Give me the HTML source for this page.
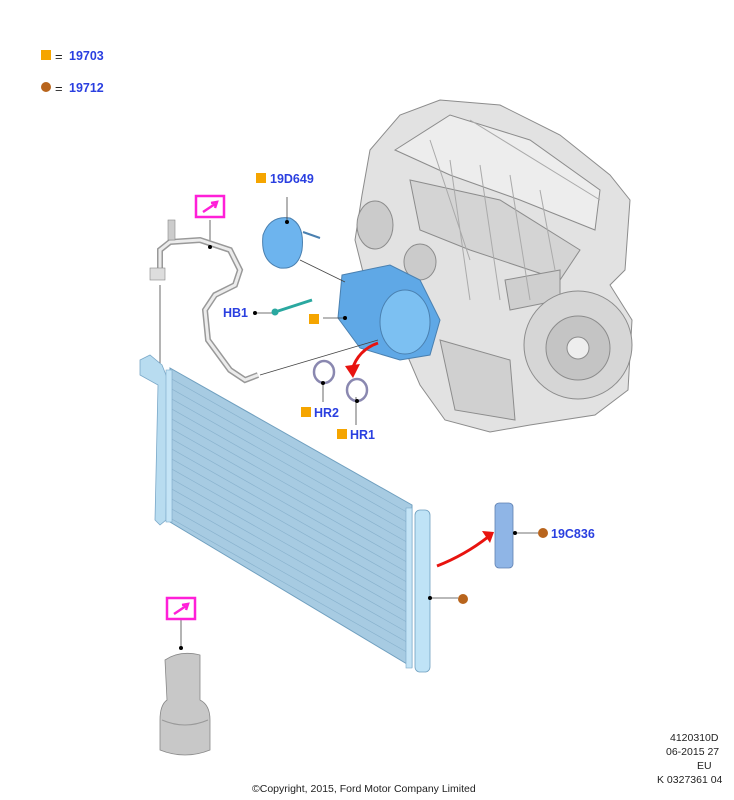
<!DOCTYPE html>
<html><head><meta charset="utf-8"><style>
html,body{margin:0;padding:0;background:#fff;width:734px;height:800px;overflow:hidden}
svg{display:block}
text{font-family:"Liberation Sans",sans-serif}
.l{fill:#2a3fe0;font-weight:bold;font-size:12.5px}
.s{fill:#222;font-size:10.5px}
</style></head><body>
<svg width="734" height="800" viewBox="0 0 734 800" xmlns="http://www.w3.org/2000/svg">
<rect width="734" height="800" fill="#fff"/>
<!-- legend -->
<rect x="41" y="50" width="10" height="10" fill="#f5a500"/><text x="55" y="61" fill="#222" font-size="13">=</text><text x="69" y="60" class="l">19703</text>
<circle cx="46" cy="87" r="5" fill="#b8641c"/><text x="55" y="93" fill="#222" font-size="13">=</text><text x="69" y="92" class="l">19712</text>
<!-- engine -->
<g stroke="#8c8c8c" stroke-width="1" fill="#e2e2e2">
<path d="M370 150 L400 115 L440 100 L500 105 L560 135 L610 175 L630 200 L625 270 L610 285 L632 320 L628 390 L595 415 L530 425 L490 432 L445 420 L420 385 L405 350 L385 320 L365 280 L355 240 L362 195 Z"/>
<path d="M395 150 L450 115 L530 140 L600 190 L595 230 L520 200 L450 175 Z" fill="#ededed"/>
<path d="M410 180 L500 200 L580 250 L560 280 L470 250 L420 230 Z" fill="#d4d4d4"/>
<path d="M440 340 L510 360 L515 420 L455 410 Z" fill="#d0d0d0"/>
<path d="M505 280 L560 270 L560 300 L510 310 Z" fill="#cfcfcf"/>
<circle cx="578" cy="345" r="54" fill="#d6d6d6"/>
<circle cx="578" cy="348" r="32" fill="#c4c4c4"/>
<circle cx="578" cy="348" r="11" fill="#eee"/>
<ellipse cx="375" cy="225" rx="18" ry="24" fill="#cbcbcb"/>
<ellipse cx="420" cy="262" rx="16" ry="18" fill="#cbcbcb"/>
</g>
<g stroke="#aaa" stroke-width="1" fill="none">
<path d="M450 160 L470 300 M480 165 L500 300 M510 175 L530 300 M540 190 L555 270 M470 120 L600 200 M430 140 L470 260"/>
</g>
<!-- compressor -->
<g stroke="#4a80b0" stroke-width="1" fill="#5fa8e6">
<path d="M342 275 L390 265 L420 280 L440 320 L430 355 L400 360 L360 348 L338 318 Z"/>
<ellipse cx="405" cy="322" rx="25" ry="32" fill="#7cc0f2"/>
<path d="M263 235 Q270 215 290 218 Q305 225 302 250 Q298 270 280 268 Q260 262 263 235 Z" fill="#6db4ee"/>
<path d="M303 232 L320 238" stroke="#4a80b0" stroke-width="2"/>
</g>
<!-- lines -->
<g stroke="#444" stroke-width="0.8" fill="none">
<path d="M287 197 L287 222"/><path d="M300 260 L345 282"/><path d="M275 313 L255 313"/>
<path d="M345 318 L323 318"/><path d="M378 340 L260 375"/><path d="M323 383 L323 402"/>
<path d="M356 397 L356 425"/><path d="M210 220 L210 245"/><path d="M160 285 L160 520"/>
<path d="M430 598 L458 598"/><path d="M515 533 L538 533"/><path d="M181 618 L181 648"/>
</g>
<!-- hose -->
<path d="M160 280 L160 250 L170 242 L200 240 L230 250 L240 270 L235 285 L215 295 L205 310 L208 340 L230 370 L245 380 L258 375" fill="none" stroke="#999" stroke-width="6"/>
<path d="M160 280 L160 250 L170 242 L200 240 L230 250 L240 270 L235 285 L215 295 L205 310 L208 340 L230 370 L245 380 L258 375" fill="none" stroke="#ececec" stroke-width="3"/>
<rect x="168" y="220" width="7" height="20" fill="#ccc" stroke="#888" stroke-width="0.6"/>
<rect x="150" y="268" width="15" height="12" fill="#ddd" stroke="#888" stroke-width="0.6"/>
<!-- bolt -->
<line x1="275" y1="312" x2="312" y2="300" stroke="#2aa8a0" stroke-width="3"/>
<circle cx="275" cy="312" r="3.5" fill="#2aa8a0"/>
<!-- o-rings -->
<ellipse cx="324" cy="372" rx="10" ry="11" fill="none" stroke="#8a88b0" stroke-width="2.5"/>
<ellipse cx="357" cy="390" rx="10" ry="11" fill="none" stroke="#8a88b0" stroke-width="2.5"/>
<!-- red arrows -->
<path d="M378 343 Q358 350 352 370" fill="none" stroke="#e8130f" stroke-width="3"/>
<path d="M345 366 L353 378 L360 364 Z" fill="#e8130f"/>
<path d="M437 566 Q465 555 488 537" fill="none" stroke="#e8130f" stroke-width="3"/>
<path d="M482 531 L494 532 L490 543 Z" fill="#e8130f"/>
<!-- condenser -->
<path d="M140 360 L150 355 L162 365 L168 380 L166 520 L160 525 L155 520 L158 385 L140 375 Z" fill="#b8dcf0" stroke="#7aa8c8" stroke-width="0.8"/>
<path d="M170 368 L412 505 L412 667 L170 522 Z" fill="#a7cbe2" stroke="#6f9fbf" stroke-width="1"/>
<g stroke="#86b0cc" stroke-width="0.6">
<path d="M170 378 L412 515 M170 388 L412 525 M170 398 L412 535 M170 408 L412 545 M170 418 L412 555 M170 428 L412 565 M170 438 L412 575 M170 448 L412 585 M170 458 L412 595 M170 468 L412 605 M170 478 L412 615 M170 488 L412 625 M170 498 L412 635 M170 508 L412 645 M170 518 L412 655"/>
</g>
<rect x="166" y="370" width="6" height="152" fill="#c4e4f6" stroke="#7aa8c8" stroke-width="0.6"/>
<rect x="406" y="508" width="6" height="160" fill="#c4e4f6" stroke="#7aa8c8" stroke-width="0.6"/>
<rect x="415" y="510" width="15" height="162" rx="5" fill="#bfe3f6" stroke="#6f9fbf" stroke-width="0.8"/>
<!-- filter drier -->
<rect x="495" y="503" width="18" height="65" rx="4" fill="#8fb5e6" stroke="#6080b0" stroke-width="0.8"/>
<!-- canister -->
<path d="M165 660 Q180 650 200 655 L200 700 Q210 705 210 720 L210 750 Q185 760 160 750 L160 720 Q160 705 167 700 Z" fill="#c8c8c8" stroke="#888" stroke-width="0.8"/>
<path d="M162 720 Q185 730 208 720" fill="none" stroke="#999"/>
<!-- magenta boxes -->
<rect x="196" y="196" width="28" height="21" fill="none" stroke="#ff1fd8" stroke-width="2.5"/>
<path d="M203 212 L215 204 M211 203 L217 202 L215 208" stroke="#ff1fd8" stroke-width="2.5" fill="none"/>
<rect x="167" y="598" width="28" height="21" fill="none" stroke="#ff1fd8" stroke-width="2.5"/>
<path d="M174 614 L186 606 M182 605 L188 604 L186 610" stroke="#ff1fd8" stroke-width="2.5" fill="none"/>
<!-- dots -->
<g fill="#000"><circle cx="287" cy="222" r="2"/><circle cx="255" cy="313" r="2"/><circle cx="345" cy="318" r="2"/><circle cx="323" cy="383" r="2"/><circle cx="357" cy="401" r="2"/><circle cx="210" cy="247" r="2"/><circle cx="430" cy="598" r="2"/><circle cx="515" cy="533" r="2"/><circle cx="181" cy="648" r="2"/></g>
<!-- labels -->
<rect x="256" y="173" width="10" height="10" fill="#f5a500"/><text x="270" y="183" class="l">19D649</text>
<text x="223" y="317" class="l">HB1</text>
<rect x="309" y="314" width="10" height="10" fill="#f5a500"/>
<rect x="301" y="407" width="10" height="10" fill="#f5a500"/><text x="314" y="417" class="l">HR2</text>
<rect x="337" y="429" width="10" height="10" fill="#f5a500"/><text x="350" y="439" class="l">HR1</text>
<circle cx="543" cy="533" r="5" fill="#b8641c"/><text x="551" y="538" class="l">19C836</text>
<circle cx="463" cy="599" r="5" fill="#b8641c"/>
<text x="670" y="741" class="s">4120310D</text>
<text x="666" y="755" class="s">06-2015 27</text>
<text x="697" y="769" class="s">EU</text>
<text x="657" y="783" class="s">K 0327361 04</text>
<text x="252" y="792" class="s">©Copyright, 2015, Ford Motor Company Limited</text>
</svg>
</body></html>
